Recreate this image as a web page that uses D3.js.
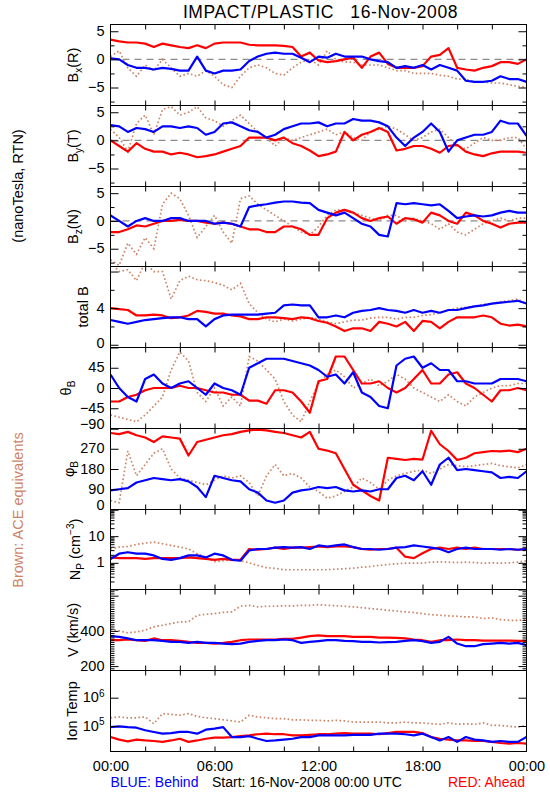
<!DOCTYPE html>
<html><head><meta charset="utf-8">
<script src="https://cdn.jsdelivr.net/npm/d3@7"></script>
<style>
body{margin:0;background:#fff}
svg text{font-family:"Liberation Sans",Arial,sans-serif}
</style>
</head><body>
<svg id="c" width="550" height="800"></svg>
<script>
// ---- time axis: half-hour samples over 16-Nov-2008 (hours) ----
const hours = d3.range(49).map(i => i * 0.5);
const timeTicks = [0, 6, 12, 18, 24];

// ---- Bx (R), nT ----
const bxBehind = [0.2,0.0,-1.0,-1.5,-1.5,-1.8,-1.5,-1.7,-2.0,-2.0,0.5,-2.0,-2.5,-2.0,-2.0,-1.8,-0.3,0.5,1.0,1.2,1.0,1.0,0.3,-0.5,0.5,0.3,1.0,0.5,0.5,0.5,0.0,-0.3,-0.5,-1.5,-1.2,-1.5,-1.0,-1.8,-1.0,-1.5,-2.0,-3.8,-4.0,-4.0,-3.8,-3.0,-3.5,-3.5,-4.0];
const bxAhead  = [3.5,3.2,3.0,3.0,2.8,2.2,2.8,2.5,2.2,2.0,2.5,2.0,2.8,3.0,3.0,3.0,2.6,2.5,2.5,2.5,2.4,2.2,0.5,1.2,-0.2,-0.5,-0.3,0.0,0.3,-1.5,0.5,1.2,-0.8,-1.5,-1.5,-1.5,-1.2,0.5,0.8,2.0,-1.5,-1.8,-2.0,-1.5,-1.2,-0.5,-0.5,-0.8,0.0];
const bxAce    = [0.5,1.5,-1.5,-3.0,-1.0,-2.0,0.0,-1.5,-3.0,-2.5,-3.0,-2.0,-3.0,-4.5,-5.0,-3.0,-1.5,-1.0,-1.5,-2.5,-2.8,-1.5,-0.5,0.0,-1.0,1.5,0.0,-0.5,-0.5,-1.0,-1.0,-1.0,-1.5,-2.0,-2.0,-2.5,-2.5,-2.5,-2.8,-3.0,-3.5,-3.5,-4.0,-4.0,-4.2,-4.2,-4.5,-4.8,-5.0];
// ---- By (T) ----
const byBehind = [2.7,2.5,1.5,2.2,2.0,1.5,2.5,2.5,2.2,2.5,2.2,1.0,1.5,3.0,3.2,2.5,1.8,1.5,0.5,1.0,2.0,2.5,3.0,3.0,3.2,2.5,3.0,3.0,3.8,3.5,3.5,3.2,2.5,0.5,-1.0,0.5,1.5,3.0,1.5,-2.0,0.0,0.5,1.0,1.0,1.5,3.5,3.0,3.0,0.8];
const byAhead  = [0.0,-1.0,-2.0,-0.5,-1.5,-2.0,-2.0,-2.5,-2.2,-2.5,-3.0,-2.8,-2.5,-2.0,-1.5,-1.0,0.5,0.5,0.5,0.0,0.5,-0.5,-1.0,-1.8,-2.8,-2.5,-2.0,1.5,0.0,1.0,1.5,2.2,1.5,-1.8,-1.5,-1.0,-1.0,-1.5,-2.2,-1.0,-0.8,-2.0,-2.5,-2.8,-2.3,-2.0,-2.0,-2.0,-2.2];
const byAce    = [2.0,0.5,-2.0,3.0,4.5,1.0,5.5,6.0,4.5,5.0,6.0,4.0,3.5,2.5,3.5,4.5,3.0,1.5,0.5,-1.0,0.5,0.0,0.5,1.0,1.5,2.0,1.0,1.5,0.5,0.0,1.5,2.0,2.5,2.0,1.0,0.0,0.5,1.5,2.0,0.5,-1.0,-1.5,-0.5,0.5,0.0,0.0,0.5,0.5,-1.5];
// ---- Bz (N) ----
const bzBehind = [1.0,0.0,-1.0,0.0,0.5,0.0,0.0,0.5,0.5,0.0,0.0,0.0,-0.5,-0.3,-0.5,-1.0,2.5,2.8,3.0,3.3,3.5,3.5,3.3,3.2,2.0,1.5,1.0,1.5,0.5,-0.5,-1.0,-2.5,-2.8,3.2,3.0,3.2,3.0,2.8,3.0,1.8,0.5,0.8,1.0,0.8,1.0,1.5,1.8,1.5,1.5];
const bzAhead  = [-2.0,-2.0,-1.5,-0.8,-1.0,-0.5,0.0,0.0,0.2,0.0,0.0,-0.3,-0.5,-0.3,-0.5,-1.0,-1.5,-1.5,-2.0,-2.0,-1.0,-1.0,-1.5,-2.5,-2.5,0.5,1.5,2.0,1.5,0.5,0.0,0.5,0.8,-0.5,0.5,0.3,-0.3,1.5,1.0,0.0,-0.5,1.5,1.0,0.0,-0.5,-1.2,-0.5,-0.3,-0.3];
const bzAce    = [-7,-8,-4,-6,-3,-5,3,5,4,1,-3,-1,1,-2,-4,4,4.5,3,2,1,0,-1,-2,-2.5,-1,1,2,2,1.5,1,0.5,0,1,1,0,0.5,0,-0.5,-1.5,-0.5,-2,-2.5,-1.5,-0.5,0,0.5,0,0.5,0.5];
// ---- total B ----
const btBehind = [2.7,2.5,2.3,2.5,2.7,2.8,2.9,3.0,3.0,2.8,2.8,2.0,2.8,3.2,3.3,3.3,3.3,3.3,3.4,3.5,4.3,4.4,4.3,4.3,3.0,3.0,3.2,3.0,3.5,3.7,3.8,4.0,3.8,3.7,3.5,3.8,3.5,3.7,3.5,3.8,3.8,4.0,4.2,4.3,4.5,4.6,4.7,4.8,4.5];
const btAhead  = [4.0,3.9,3.8,3.2,3.2,3.3,3.2,2.9,3.0,3.2,3.7,3.6,3.4,3.4,3.2,3.1,2.8,2.8,3.0,3.0,2.9,2.8,3.0,2.9,2.6,2.4,2.0,1.5,1.8,1.8,1.5,2.5,2.3,2.0,2.5,1.5,2.6,2.5,1.8,2.5,3.0,3.0,3.0,3.2,3.0,2.3,2.1,2.2,2.0];
const btAce    = [9,8,8.2,7,9,8,8,5,7,7.5,7.1,7.0,6.8,6.5,6.0,6.7,4.5,3.5,2.8,2.5,2.8,2.6,2.8,3.0,2.8,2.5,2.3,2.5,2.7,2.7,2.9,3.0,3.0,2.8,3.0,3.0,3.2,3.3,3.5,3.8,4.0,4.1,4.2,4.4,4.5,4.7,4.8,5.0,4.4];
// ---- theta_B (deg) ----
const thBehind = [30,0,-20,-30,20,30,10,0,10,15,0,-15,10,0,-5,-15,45,55,65,65,65,60,55,50,40,25,30,10,35,-10,-20,-40,-45,50,65,70,45,55,40,40,15,15,10,10,10,20,20,20,15];
const thAhead  = [-30,-30,-20,-15,-5,0,0,0,5,0,0,-5,-10,-10,-15,-15,-28,-28,-35,-5,-5,-10,-30,-55,15,20,70,70,40,10,10,15,0,-10,0,20,40,10,10,30,35,10,0,-15,-30,-5,-5,0,-5];
const thAce    = [-60,-65,-70,-75,-60,-40,-20,40,80,60,-10,-30,0,-40,-20,-40,70,60,40,20,-30,-60,-75,-30,10,30,40,25,0,10,20,5,15,30,20,0,-10,-20,-30,-15,-30,-40,-20,-10,0,5,5,10,10];
// ---- phi_B (deg) ----
const phBehind = [85,90,95,120,130,140,135,130,135,125,100,55,150,140,130,125,90,75,40,30,40,75,85,90,100,95,100,85,80,85,80,90,90,140,150,130,170,110,200,230,175,180,175,170,165,140,145,140,170];
const phAhead  = [340,335,345,330,320,300,325,320,315,240,300,310,320,330,335,345,352,355,352,345,340,330,320,345,270,262,250,180,110,85,60,40,230,225,220,225,222,350,290,260,220,230,250,255,260,258,262,255,270];
const phAce    = [40,30,260,150,200,250,270,180,140,130,120,110,130,150,140,150,120,60,150,200,150,160,140,100,80,50,60,80,100,140,120,90,130,150,160,170,175,160,180,200,195,190,195,200,205,195,190,185,200];
// ---- proton density (cm^-3) ----
const npBehind = [1.4,2.2,2.5,2.2,2.2,1.9,1.4,1.3,1.5,1.9,1.9,1.6,2.2,1.9,1.3,1.2,2.9,3.3,3.3,3.7,3.9,3.7,3.9,3.3,4.5,4.1,4.5,4.9,3.9,3.3,3.3,3.1,3.3,3.7,3.9,4.5,4.1,3.7,3.3,2.5,3.3,3.7,3.3,3.3,3.3,3.1,3.3,3.1,3.3];
const npAhead  = [1.6,1.5,1.5,1.5,1.4,1.5,1.5,1.5,1.5,1.6,1.5,1.4,1.3,1.4,1.3,1.3,3.3,3.1,3.3,3.7,3.3,3.7,3.7,3.9,4.1,3.9,4.1,4.1,3.9,3.3,3.1,3.3,3.3,3.7,1.7,1.5,2.3,3.3,3.7,3.3,3.7,3.3,3.7,3.3,3.3,3.3,3.3,3.1,3.3];
const npAce    = [3.3,3.9,4.1,4.9,5.5,6.0,5.2,4.5,3.9,3.3,2.2,1.6,1.1,1.2,1.3,1.2,1.0,0.8,0.66,0.62,0.55,0.55,0.55,0.55,0.55,0.55,0.58,0.6,0.63,0.69,0.73,0.8,0.87,0.92,0.97,0.97,0.98,1.06,1.09,1.06,1.03,1.06,1.03,0.97,1.0,0.97,1.0,1.06,1.2];
// ---- bulk speed (km/s) ----
const vBehind = [370,366,357,347,347,347,343,338,338,332,338,332,332,328,325,328,338,343,347,347,351,347,332,338,342,347,347,343,342,338,338,334,336,338,343,347,342,332,338,366,328,313,313,325,328,332,328,332,319];
const vAhead  = [347,347,351,347,343,357,347,347,343,338,332,332,328,332,338,347,351,351,351,351,355,355,362,370,374,370,370,370,366,366,366,362,362,360,357,351,347,338,347,347,351,347,347,345,345,345,345,343,343];
const vAce    = [408,400,389,394,404,423,432,442,451,452,488,494,498,505,508,540,545,536,540,540,543,541,545,545,549,545,543,540,536,532,526,523,517,513,508,504,498,492,489,485,483,479,479,470,474,464,460,460,464];
// ---- ion temperature, log10(K) ----
const tBehind = [4.96,4.99,4.96,4.94,4.85,4.79,4.73,4.75,4.79,4.79,4.73,4.87,4.91,4.96,4.61,4.61,4.64,4.55,4.47,4.49,4.52,4.55,4.61,4.61,4.67,4.67,4.67,4.67,4.69,4.69,4.69,4.73,4.73,4.73,4.71,4.67,4.73,4.61,4.49,4.61,4.44,4.61,4.52,4.49,4.44,4.47,4.44,4.44,4.61];
const tAhead  = [4.61,4.52,4.46,4.52,4.49,4.47,4.44,4.49,4.55,4.44,4.49,4.55,4.59,4.59,4.61,4.64,4.67,4.71,4.73,4.71,4.71,4.67,4.67,4.69,4.71,4.71,4.73,4.75,4.73,4.73,4.73,4.71,4.75,4.79,4.79,4.79,4.75,4.61,4.55,4.52,4.49,4.49,4.47,4.47,4.44,4.40,4.38,4.40,4.38];
const tAce    = [5.29,5.32,5.29,5.29,5.32,5.08,5.44,5.41,5.38,5.44,5.34,5.29,5.26,5.22,5.18,5.14,5.38,5.32,5.29,5.26,5.26,5.22,5.22,5.2,5.2,5.18,5.2,5.18,5.14,5.14,5.14,5.14,5.11,5.11,5.14,5.11,5.11,5.08,5.06,5.11,5.06,5.08,5.06,5.11,5.02,5.02,4.99,4.96,5.02];

// ---- tick labels ----
const bTicks = [-5, 0, 5], bMinor = [-7.5, -2.5, 2.5];
const btTicks = [0, 4, 8], btLabels = [0, 4], btMinor = [2, 6];
const thTicks = [-90, -45, 0, 45, 90], thLabels = [-90, -45, 0, 45];
const phTicks = [0, 90, 180, 270, 360], phLabels = [0, 90, 180, 270];
const npTicks = [0.1, 1, 10, 100], npLabels = [1, 10];
const vTicks = [200, 400, 600], vLabels = [200, 400];
const tTicks = [5, 6], tLabels = [5, 6];

const BLUE = "#0000ff", RED = "#ff0000", BROWN = "#cc8466";
const svg = d3.select("#c");
const X0 = 110.5, X1 = 526.5;
const bounds = d3.range(10).map(k => Math.round(24 + k * 80.78) + 0.5);
const x = d3.scaleLinear().domain([0, 24]).range([X0, X1]);
const FS = 14.5;

const panels = [
  {title:[["B",0],["x",1],["(R)",0]], tx:78, beh:bxBehind, ahd:bxAhead, ace:bxAce, dom:[-8.2,6.2], maj:bTicks, lab:bTicks, min:bMinor, zero:true},
  {title:[["B",0],["y",1],["(T)",0]], tx:78, beh:byBehind, ahd:byAhead, ace:byAce, dom:[-8.2,6.2], maj:bTicks, lab:bTicks, min:bMinor, zero:true},
  {title:[["B",0],["z",1],["(N)",0]], tx:78, beh:bzBehind, ahd:bzAhead, ace:bzAce, dom:[-8.2,6.2], maj:bTicks, lab:bTicks, min:bMinor, zero:true},
  {title:[["total B",0]], tx:88, beh:btBehind, ahd:btAhead, ace:btAce, dom:[-0.3,8.55], maj:btTicks, lab:btLabels, min:btMinor},
  {title:[["θ",0],["B",1]], tx:71, beh:thBehind, ahd:thAhead, ace:thAce, dom:[-90,90], maj:thTicks, lab:thLabels, min:[]},
  {title:[["φ",0],["B",1]], tx:74, beh:phBehind, ahd:phAhead, ace:phAce, dom:[0,360], maj:phTicks, lab:phLabels, min:[]},
  {title:[["N",0],["P",1],[" (cm",0],["−3",2],[")",0]], tx:80, beh:npBehind, ahd:npAhead, ace:npAce, dom:[0.1,100], log:true, maj:npTicks, lab:npLabels,
     min:[0.2,0.3,0.4,0.5,0.6,0.7,0.8,0.9,2,3,4,5,6,7,8,9,20,30,40,50,60,70,80,90]},
  {title:[["V (km/s)",0]], tx:78, beh:vBehind, ahd:vAhead, ace:vAce, dom:[175,635], maj:vTicks, lab:vLabels, min:d3.range(187.5, 635, 12.5).filter(v => v % 200 !== 0)},
  {title:[["Ion Temp",0]], tx:77, beh:tBehind, ahd:tAhead, ace:tAce, dom:[4.1,6.96], maj:tTicks, lab:tLabels, min:[], pow:true}
];

function styleAxis(g){
  g.select(".domain").remove();
  g.selectAll("line").attr("stroke","#000").attr("stroke-width",1);
  g.selectAll("text").attr("font-family",'"Liberation Sans",Arial,sans-serif').attr("font-size",FS).attr("fill","#000");
}

panels.forEach((p, k) => {
  const top = bounds[k], bot = bounds[k + 1], ph = bot - top;
  const y = (p.log ? d3.scaleLog() : d3.scaleLinear()).domain(p.dom).range([bot, top]);
  svg.append("clipPath").attr("id", "cp" + k).append("rect")
    .attr("x", X0).attr("y", top).attr("width", X1 - X0).attr("height", ph);
  const g = svg.append("g").attr("clip-path", `url(#cp${k})`);
  if (p.zero) {
    g.append("line").attr("x1", X0).attr("x2", X1).attr("y1", y(0)).attr("y2", y(0))
      .attr("stroke", "#8c8c8c").attr("stroke-width", 1.2).attr("stroke-dasharray", "7,5");
  }
  const line = d3.line().x((d, i) => x(hours[i])).y(d => y(d));
  g.append("path").datum(p.ace).attr("d", line).attr("fill", "none")
    .attr("stroke", BROWN).attr("stroke-width", 1.7).attr("stroke-dasharray", "1.6,2.4");
  g.append("path").datum(p.ahd).attr("d", line).attr("fill", "none")
    .attr("stroke", RED).attr("stroke-width", 2.2).attr("stroke-linejoin", "round");
  g.append("path").datum(p.beh).attr("d", line).attr("fill", "none")
    .attr("stroke", BLUE).attr("stroke-width", 2.2).attr("stroke-linejoin", "round");

  svg.append("rect").attr("x", X0).attr("y", top).attr("width", X1 - X0).attr("height", ph)
    .attr("fill", "none").attr("stroke", "#000").attr("stroke-width", 1);

  // time ticks top & bottom
  const hTicks = d3.range(2, 24, 2);
  svg.append("g").attr("transform", `translate(0,${top})`)
    .call(d3.axisTop(x).tickValues(hTicks).tickSize(-5).tickFormat("")).call(styleAxis);
  const bx = svg.append("g").attr("transform", `translate(0,${bot})`);
  if (k === panels.length - 1) {
    bx.call(d3.axisBottom(x).tickValues(hTicks).tickSize(-5).tickFormat("")).call(styleAxis);
    svg.append("g").attr("transform", `translate(0,${bot})`)
      .call(d3.axisBottom(x).tickValues(timeTicks).tickSize(0).tickPadding(9)
        .tickFormat(h => String(h % 24).padStart(2, "0") + ":00")).call(styleAxis);
  } else {
    bx.call(d3.axisBottom(x).tickValues(hTicks).tickSize(-5).tickFormat("")).call(styleAxis);
  }

  // y ticks both sides, inward
  [[d3.axisLeft, X0], [d3.axisRight, X1]].forEach(([ax, xp]) => {
    svg.append("g").attr("transform", `translate(${xp},0)`)
      .call(ax(y).tickValues(p.maj).tickSize(-8).tickFormat("")).call(styleAxis);
    if (p.min.length)
      svg.append("g").attr("transform", `translate(${xp},0)`)
        .call(ax(y).tickValues(p.min).tickSize(-4).tickFormat("")).call(styleAxis);
  });
  // y labels
  const lg = svg.append("g").attr("transform", `translate(${X0},0)`)
    .call(d3.axisLeft(y).tickValues(p.lab).tickSize(0).tickPadding(6)
      .tickFormat(v => p.pow ? "10" : String(v).replace("-", "−")))
    .call(styleAxis);
  lg.selectAll(".tick").attr("transform", d => `translate(0,${Math.min(y(d), bot - 4.5)})`);
  if (p.pow) {
    lg.selectAll("text").append("tspan").attr("dy", "-0.55em").attr("font-size", 10).text(d => d);
  }
  // panel title, rotated
  const tt = svg.append("text")
    .attr("transform", `translate(${p.tx},${(top + bot) / 2}) rotate(-90)`)
    .attr("text-anchor", "middle").attr("font-size", FS).attr("fill", "#000");
  let shift = 0;
  p.title.forEach(([s, kind]) => {
    const ts = tt.append("tspan").text(s);
    let target = kind === 1 ? 4 : kind === 2 ? -6 : 0;
    if (target !== shift) ts.attr("dy", target - shift);
    shift = target;
    if (kind) ts.attr("font-size", 10);
  });
});

// Title
svg.append("text").attr("x", (X0 + X1) / 2 + 2).attr("y", 18).attr("text-anchor", "middle")
  .attr("font-size", 17.5).attr("letter-spacing", 0.6).attr("fill", "#000")
  .text("IMPACT/PLASTIC   16-Nov-2008").attr("xml:space", "preserve").style("white-space", "pre");

// left side labels
svg.append("text").attr("transform", `translate(23,186) rotate(-90)`).attr("text-anchor", "middle")
  .attr("font-size", 14.5).attr("fill", "#000").text("(nanoTesla, RTN)");
svg.append("text").attr("transform", `translate(23,510) rotate(-90)`).attr("text-anchor", "middle")
  .attr("font-size", 14.5).attr("fill", BROWN).text("Brown: ACE equivalents");

// bottom legend line
svg.append("text").attr("x", X0).attr("y", 787).attr("font-size", 14).attr("fill", BLUE).text("BLUE: Behind");
svg.append("text").attr("x", 212).attr("y", 787).attr("font-size", 14).attr("fill", "#000").text("Start: 16-Nov-2008 00:00 UTC");
svg.append("text").attr("x", 525).attr("y", 787).attr("text-anchor", "end").attr("font-size", 14).attr("fill", RED).text("RED: Ahead");
</script>
</body></html>
